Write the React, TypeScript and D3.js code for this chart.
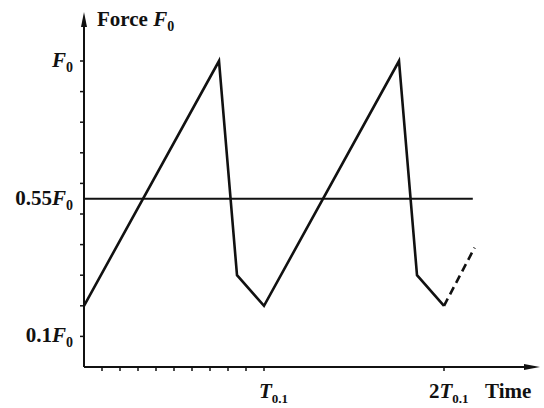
import * as d3 from 'd3';

// time in units of T0.1, force in units of F0
const sawTime = [0, 0.75, 0.85, 1.0, 1.75, 1.85, 2.0];
const sawForce = [0.2, 1.0, 0.3, 0.2, 1.0, 0.3, 0.2];
const dashTime = [2.0, 2.17];
const dashForce = [0.2, 0.39];
const refLevel = 0.55;
const refEnd = 2.16;
const yTicks = [0.1, 0.2, 0.3, 0.4, 0.5, 0.6, 0.7, 0.8, 0.9, 1.0];
const xTicks = [0.1, 0.2, 0.3, 0.4, 0.5, 0.6, 0.7, 0.8, 0.9, 1.0, 2.0];
const yLabels = [
  { v: 1.0, pre: '', sym: 'F', sub: '0' },
  { v: 0.55, pre: '0.55', sym: 'F', sub: '0' },
  { v: 0.1, pre: '0.1', sym: 'F', sub: '0' },
];
const xLabels = [
  { v: 1, pre: '', sym: 'T', sub: '0.1' },
  { v: 2, pre: '2', sym: 'T', sub: '0.1' },
];

const font = '"Liberation Serif", "Times New Roman", serif';

export default function App() {
  const x = d3.scaleLinear().domain([0, 2]).range([84, 444]);
  const y = d3.scaleLinear().domain([0, 1]).range([367, 61]);

  const line = d3
    .line<[number, number]>()
    .x(d => x(d[0]))
    .y(d => y(d[1]));

  const saw = line(sawTime.map((t, i) => [t, sawForce[i]]));
  const dash = line(dashTime.map((t, i) => [t, dashForce[i]]));

  const x0 = x(0);
  const y0 = y(0);
  const yTop = 12;
  const xEnd = 540;

  return (
    <svg
      width={544}
      height={408}
      style={{ position: 'absolute', left: 0, top: 0, background: '#fff' }}
      fontFamily={font}
      fontWeight="bold"
    >
      {/* axes */}
      <line x1={x0} y1={y0} x2={x0} y2={yTop + 6} stroke="#111" strokeWidth={2} />
      <line x1={x0} y1={y0} x2={xEnd - 6} y2={y0} stroke="#111" strokeWidth={2} />
      <path d={`M${x0},${yTop} L${x0 - 3},${yTop + 15} L${x0 + 3},${yTop + 15} Z`} fill="#111" />
      <path d={`M${xEnd},${y0} L${xEnd - 16},${y0 - 3} L${xEnd - 16},${y0 + 3} Z`} fill="#111" />

      {yTicks.map(v => (
        <line key={'yt' + v} x1={x0 - 4} x2={x0} y1={y(v)} y2={y(v)} stroke="#111" strokeWidth={1.5} />
      ))}
      {xTicks.map(v => (
        <line key={'xt' + v} x1={x(v)} x2={x(v)} y1={y0} y2={y0 + 4} stroke="#111" strokeWidth={1.5} />
      ))}

      {/* 0.55 F0 reference level */}
      <line x1={x0} x2={x(refEnd)} y1={y(refLevel)} y2={y(refLevel)} stroke="#111" strokeWidth={2} />

      {/* force trace */}
      <path d={saw ?? ''} fill="none" stroke="#111" strokeWidth={2.6} strokeLinejoin="miter" />
      <path d={dash ?? ''} fill="none" stroke="#111" strokeWidth={2.6} strokeDasharray="8,5" />

      {/* y labels */}
      {yLabels.map(l => (
        <text key={'yl' + l.v} x={73} y={y(l.v) + 6} textAnchor="end" fontSize={21} fill="#111">
          {l.pre}
          <tspan fontStyle="italic">{l.sym}</tspan>
          <tspan fontSize={14} dy={5}>{l.sub}</tspan>
        </text>
      ))}

      {/* x labels */}
      {xLabels.map(l => (
        <text key={'xl' + l.v} x={x(l.v) - (l.pre ? 15 : 5)} y={398} fontSize={21} fill="#111">
          {l.pre}
          <tspan fontStyle="italic">{l.sym}</tspan>
          <tspan fontSize={13} dy={5}>{l.sub}</tspan>
        </text>
      ))}

      <text x={97} y={26} fontSize={21} fill="#111">
        Force <tspan fontStyle="italic">F</tspan>
        <tspan fontSize={14} dy={5}>0</tspan>
      </text>
      <text x={485} y={398} fontSize={21} fill="#111">Time</text>
    </svg>
  );
}
